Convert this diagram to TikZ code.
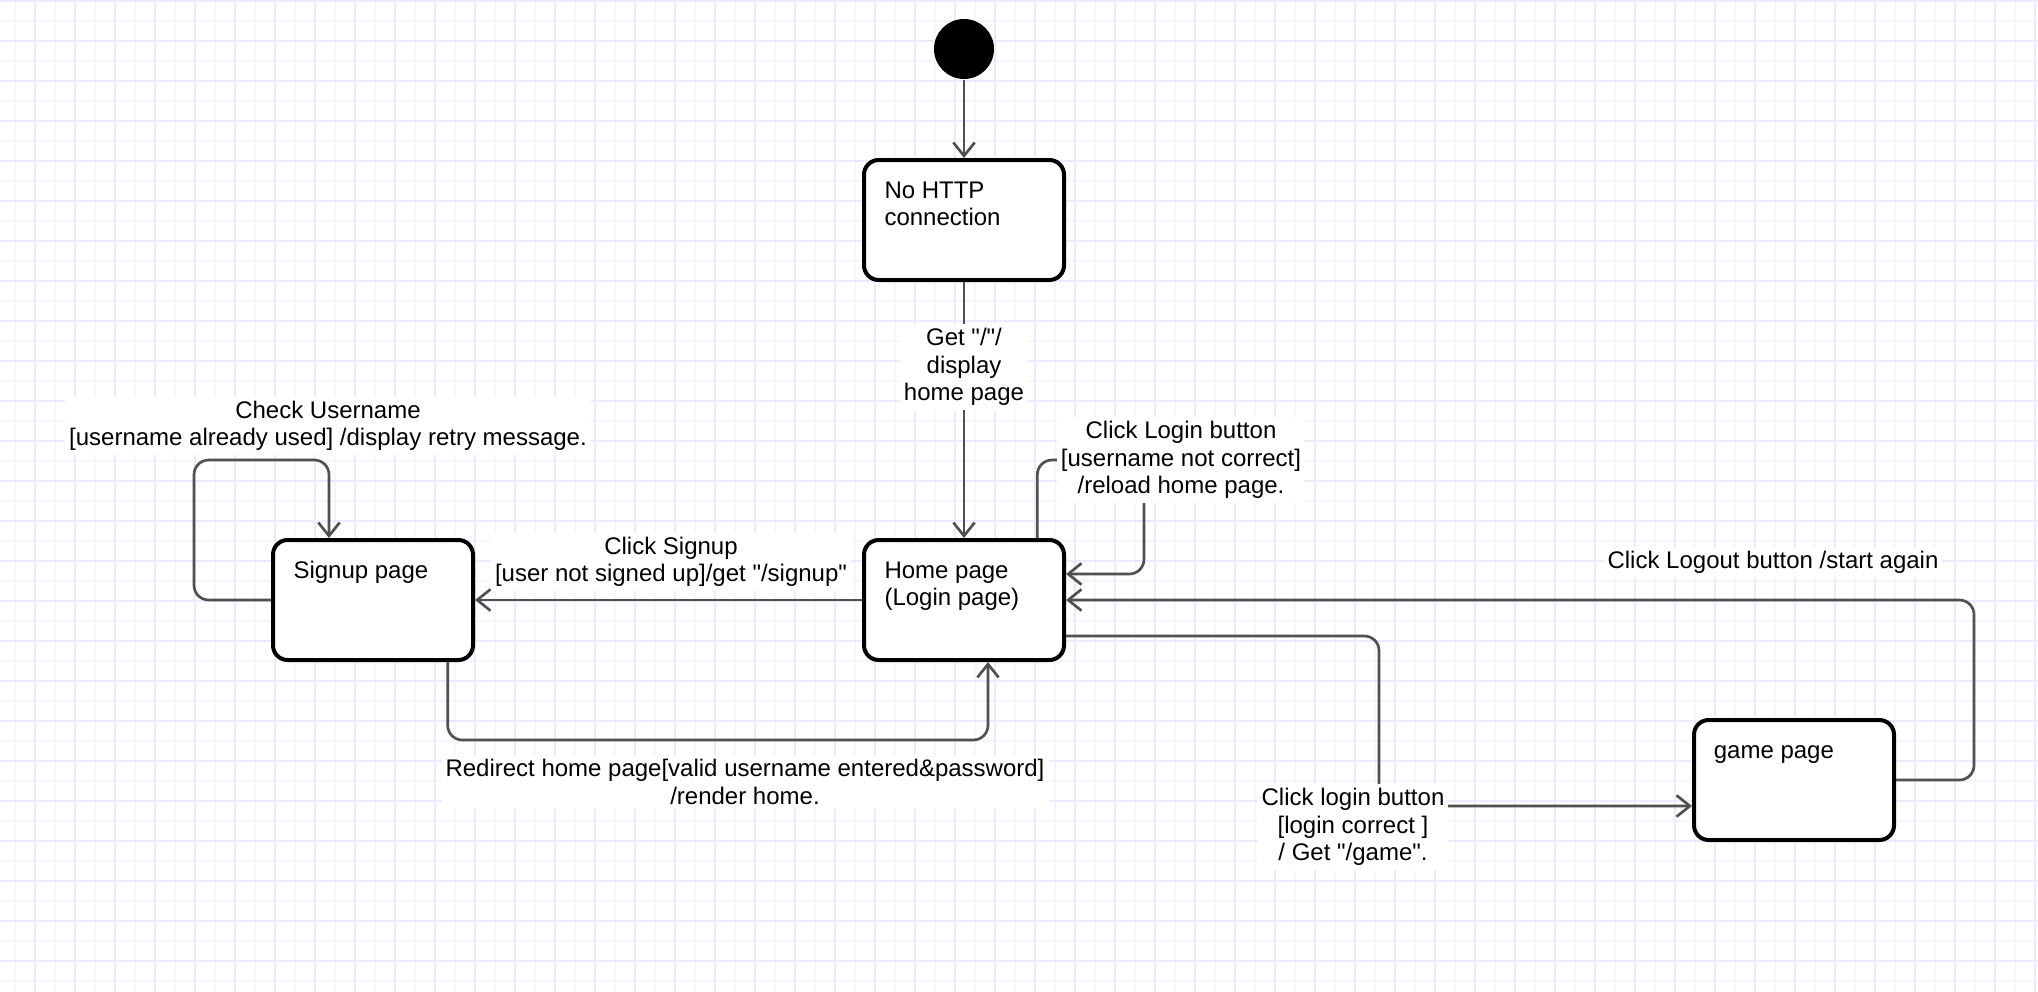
\documentclass[tikz,border=0pt]{standalone}
\usepackage{fontspec}
\setmainfont{Liberation Sans}
\usetikzlibrary{arrows.meta}

\tikzset{every picture/.style={line width=0.75pt}}
\tikzset{
  gridminor/.style={draw={rgb, 255:red, 245; green, 245; blue, 255 }, line width=1.1pt},
  gridmajor/.style={draw={rgb, 255:red, 234; green, 234; blue, 254 }, line width=1.1pt},
  statebox/.style={draw=black, fill=white, line width=3pt, rounded corners=11pt, minimum width=150pt, minimum height=90pt, inner sep=0pt},
  statetxt/.style={anchor=base west, inner sep=0pt, align=left},
  trans/.style={draw={rgb, 255:red, 80; green, 80; blue, 80 }, line width=2pt, rounded corners=11pt, -{Straight Barb[length=10pt,width=16pt]}},
  translbl/.style={fill=white, align=center, inner sep=3pt},
}

\begin{document}
\begin{tikzpicture}[x=0.75pt,y=0.75pt,yscale=-1,xscale=1,font=\fontsize{18}{20.6}\selectfont]
\useasboundingbox (0,0) rectangle (2038,992);
\fill[white] (0,0) rectangle (2038,992);

%Grid
\foreach \x in {15,55,...,2035} \draw[gridminor] (\x,0) -- (\x,992);
\foreach \y in {21,61,...,981} \draw[gridminor] (0,\y) -- (2038,\y);
\foreach \x in {35,75,...,2035} \draw[gridmajor] (\x,0) -- (\x,992);
\foreach \y in {1,41,...,961} \draw[gridmajor] (0,\y) -- (2038,\y);

%Initial state
\node[circle, fill=black, minimum size=45pt, inner sep=0pt] (init) at (964,49) {};

%States (two-line texts: base is on the last line)
\node[statebox] (http) at (964,220) {};
\node[statetxt] (httptxt) at ([xshift=16.5pt,yshift=50.6pt]http.north west) {No HTTP\\connection};

\node[statebox] (home) at (964,600) {};
\node[statetxt] (hometxt) at ([xshift=16.5pt,yshift=50.6pt]home.north west) {Home page\\(Login page)};

\node[statebox] (signup) at (373,600) {};
\node[statetxt] (signuptxt) at ([xshift=16.5pt,yshift=30pt]signup.north west) {Signup page};

\node[statebox] (game) at (1794,780) {};
\node[statetxt] (gametxt) at ([xshift=16pt,yshift=30pt]game.north west) {game page};

%Transitions
\draw[trans] (init) -- (http);
\draw[trans] (http) -- (home);
\draw[trans] (home.west) -- (signup.east);
\draw[trans] (signup.west) -| (194,460) -| ([xshift=-33pt]signup.north);
\draw[trans] ([xshift=56pt]signup.south) |- (716,740) -| ([xshift=18pt]home.south);
\draw[trans] ([xshift=55pt]home.north) |- (1144,460) |- ([yshift=-19.5pt]home.east);
\draw[trans] ([yshift=27pt]home.east) -| (1379,806) -- ([yshift=19.5pt]game.west);
\draw[trans] (game.east) -| (1974,600) -- (home.east);

%Transition labels
\node[translbl] (getlbl) at (964,367) {Get \textquotedbl/\textquotedbl/\\display\\home page};
\node[translbl] (signuplbl) at (671,562) {Click Signup\\{}[user not signed up]/get \textquotedbl/signup\textquotedbl};
\node[translbl] (checklbl) at (328,426) {Check Username\\{}[username already used] /display retry message.};
\node[translbl] (redirlbl) at (745,782) {Redirect home page[valid username entered\&password]\\/render home.};
\node[translbl] (reloadlbl) at (1181,460) {Click Login button\\{}[username not correct]\\/reload home page.};
\node[translbl] (loginlbl) at (1353,827) {Click login button\\{}[login correct ]\\/ Get \textquotedbl/game\textquotedbl.};
\node[translbl] (logoutlbl) at (1773,562) {Click Logout button /start again};

\end{tikzpicture}
\end{document}
